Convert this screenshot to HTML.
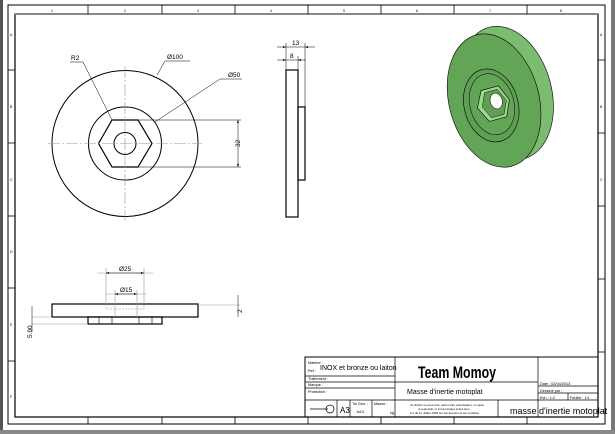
<!DOCTYPE html>
<html><head><meta charset="utf-8"><style>
html,body{margin:0;padding:0;background:#fff;width:615px;height:434px;overflow:hidden}
svg{display:block}
text{font-family:"Liberation Sans",sans-serif;fill:#000}
</style></head><body>
<svg width="615" height="434" viewBox="0 0 615 434" xmlns="http://www.w3.org/2000/svg">
<defs>
<marker id="a" viewBox="0 0 6 4" refX="6" refY="2" markerWidth="6" markerHeight="4" orient="auto-start-reverse"><path d="M0,0 L6,2 L0,4z" fill="#000"/></marker>
</defs>
<rect x="0" y="0" width="615" height="434" fill="#fff"/>
<rect x="0" y="0" width="3" height="434" fill="#555"/>
<rect x="611" y="0" width="4" height="434" fill="#777"/>
<rect x="0" y="430" width="615" height="4" fill="#888"/>
<rect x="8" y="5" width="597" height="419" fill="none" stroke="#000" stroke-width="1"/>
<rect x="15" y="14" width="583" height="403" fill="none" stroke="#000" stroke-width="1.2"/>
<line x1="15" y1="14" x2="598" y2="14" stroke="#888" stroke-width="2"/>
<g stroke="#000" stroke-width="0.8">
<line x1="88" y1="5" x2="88" y2="14"/><line x1="162" y1="5" x2="162" y2="14"/><line x1="235" y1="5" x2="235" y2="14"/><line x1="308" y1="5" x2="308" y2="14"/><line x1="381" y1="5" x2="381" y2="14"/><line x1="454" y1="5" x2="454" y2="14"/><line x1="527" y1="5" x2="527" y2="14"/>
<line x1="88" y1="417" x2="88" y2="424"/><line x1="162" y1="417" x2="162" y2="424"/><line x1="235" y1="417" x2="235" y2="424"/><line x1="308" y1="417" x2="308" y2="424"/><line x1="381" y1="417" x2="381" y2="424"/><line x1="454" y1="417" x2="454" y2="424"/><line x1="527" y1="417" x2="527" y2="424"/>
<line x1="8" y1="70" x2="15" y2="70"/><line x1="8" y1="143" x2="15" y2="143"/><line x1="8" y1="216" x2="15" y2="216"/><line x1="8" y1="288" x2="15" y2="288"/><line x1="8" y1="361" x2="15" y2="361"/>
<line x1="598" y1="60" x2="605" y2="60"/><line x1="598" y1="133" x2="605" y2="133"/><line x1="598" y1="206" x2="605" y2="206"/><line x1="598" y1="279" x2="605" y2="279"/><line x1="598" y1="352" x2="605" y2="352"/>
</g>
<g font-size="3.5" fill="#333">
<text x="51" y="12">1</text><text x="124" y="12">2</text><text x="197" y="12">3</text><text x="270" y="12">4</text><text x="343" y="12">5</text><text x="416" y="12">6</text><text x="489" y="12">7</text><text x="560" y="12">8</text>
<text x="10" y="36">A</text><text x="10" y="108">B</text><text x="10" y="181">C</text><text x="10" y="253">D</text><text x="10" y="326">E</text><text x="10" y="398">F</text>
<text x="600" y="36">A</text><text x="600" y="108">B</text><text x="600" y="181">C</text>
</g>
<g fill="none" stroke="#000" stroke-width="1">
<circle cx="125" cy="143.5" r="73"/>
<circle cx="125" cy="143.5" r="36.5"/>
<circle cx="125" cy="143.5" r="11"/>
<polygon points="98.5,143.5 112,120 138,120 152,143.5 138,167 112,167" stroke-width="1.2"/>
</g>
<g stroke="#999" stroke-width="0.6" stroke-dasharray="12,2,2,2">
<line x1="48" y1="143.5" x2="202" y2="143.5"/><line x1="125" y1="66" x2="125" y2="221"/>
</g>
<g stroke="#000" stroke-width="0.5" fill="none">
<line x1="138" y1="120" x2="241" y2="120"/><line x1="138" y1="167" x2="241" y2="167"/>
<line x1="238" y1="120" x2="238" y2="167" marker-start="url(#a)" marker-end="url(#a)"/>
<polyline points="70,62 83,62 112,120"/>
<polyline points="190,61 165,61 157,75"/>
<polyline points="242,79 220,79 155,122"/>
<line x1="277" y1="47" x2="286" y2="47" marker-end="url(#a)"/><line x1="305" y1="47" x2="315" y2="47" marker-start="url(#a)"/><line x1="286" y1="47" x2="305" y2="47"/>
<line x1="277" y1="60" x2="286" y2="60" marker-end="url(#a)"/><line x1="298" y1="60" x2="306" y2="60" marker-start="url(#a)"/><line x1="286" y1="60" x2="298" y2="60"/>
<line x1="286" y1="43" x2="286" y2="70"/><line x1="298" y1="56" x2="298" y2="70"/><line x1="305" y1="43" x2="305" y2="107"/>
</g>
<g font-size="6.5"><text x="71" y="60">R2</text><text x="167" y="59">Ø100</text><text x="228" y="77">Ø50</text>
<text x="292" y="45">13</text><text x="290" y="58">8</text>
<text transform="translate(240,147) rotate(-90)">32</text></g>
<rect x="286" y="70" width="12" height="147" fill="none" stroke="#000" stroke-width="1.2"/>
<rect x="298" y="107" width="7" height="73" fill="none" stroke="#000" stroke-width="1.2"/>
<rect x="52" y="304" width="146" height="13" fill="none" stroke="#000" stroke-width="1.2"/>
<rect x="88" y="317" width="74" height="7" fill="none" stroke="#000" stroke-width="1.2"/>
<g stroke="#000" stroke-width="0.6"><line x1="99" y1="317" x2="99" y2="324"/><line x1="112" y1="317" x2="112" y2="324"/><line x1="139" y1="317" x2="139" y2="324"/><line x1="152" y1="317" x2="152" y2="324"/></g>
<g stroke="#999" stroke-width="0.6" fill="none">
<polyline points="106,304 106,309 144,309 144,304" stroke-dasharray="2,1"/>
<line x1="106" y1="268" x2="106" y2="304"/><line x1="144" y1="268" x2="144" y2="304"/>
<line x1="97" y1="273" x2="153" y2="273"/>
<line x1="115" y1="290" x2="115" y2="317"/><line x1="137" y1="290" x2="137" y2="317"/>
<line x1="105" y1="294" x2="146" y2="294"/>
<line x1="198" y1="305" x2="240" y2="305"/>
<line x1="32" y1="317" x2="52" y2="317"/><line x1="32" y1="324" x2="88" y2="324"/>
</g>
<g stroke="#000" stroke-width="0.5" fill="none">
<line x1="106" y1="273" x2="144" y2="273" marker-start="url(#a)" marker-end="url(#a)"/>
<line x1="115" y1="294" x2="137" y2="294" marker-start="url(#a)" marker-end="url(#a)"/>
<line x1="238" y1="295" x2="238" y2="317"/><line x1="32" y1="306" x2="32" y2="332"/></g>
<g font-size="6.5"><text x="119" y="271">Ø25</text><text x="120" y="292">Ø15</text>
<text transform="translate(242,313) rotate(-90)">2</text><text transform="translate(32,338) rotate(-90)">5.90</text></g>
<g transform="rotate(-15 496 100)">
<ellipse cx="508" cy="96" rx="45" ry="68" fill="#7cbc70" stroke="#000" stroke-width="0.6"/>
<path d="M494,32 L508,28 L508,164 L494,168 Z" fill="#7cbc70"/>
<ellipse cx="494" cy="100" rx="45" ry="68" fill="#63a557" stroke="#000" stroke-width="0.6"/>
<ellipse cx="490" cy="104" rx="27" ry="37" fill="#5f9f54" stroke="#000" stroke-width="0.6"/>
<ellipse cx="491" cy="103" rx="22" ry="31" fill="#63a557" stroke="#000" stroke-width="0.5"/>
<polygon points="476,103 484,87 502,87 509,103 502,119 484,119" fill="#9ad88f" stroke="#000" stroke-width="0.6"/>
<polygon points="481,103 487,90 500,90 506,103 500,116 487,116" fill="#5f9f54" stroke="#000" stroke-width="0.4"/>
<ellipse cx="496" cy="101" rx="6" ry="8" fill="#fff" stroke="#000" stroke-width="0.5"/>
</g>
<g stroke="#000" stroke-width="0.7" fill="none">
<rect x="305" y="357" width="293" height="60" stroke-width="1"/>
<line x1="395" y1="357" x2="395" y2="400"/>
<line x1="538" y1="357" x2="538" y2="417"/>
<line x1="305" y1="376" x2="395" y2="376"/>
<line x1="305" y1="382" x2="395" y2="382"/>
<line x1="305" y1="388" x2="395" y2="388"/>
<line x1="395" y1="382" x2="538" y2="382"/>
<line x1="305" y1="400" x2="598" y2="400"/>
<line x1="337" y1="400" x2="337" y2="417"/><line x1="350" y1="400" x2="350" y2="417"/><line x1="372" y1="400" x2="372" y2="417"/><line x1="395" y1="400" x2="395" y2="417"/><line x1="498" y1="400" x2="498" y2="417"/>
<line x1="538" y1="386" x2="598" y2="386"/><line x1="538" y1="393" x2="598" y2="393"/><line x1="568" y1="393" x2="568" y2="400"/>
<line x1="310" y1="409" x2="328" y2="409"/><circle cx="330" cy="409" r="4"/>
</g>
<g font-size="3.8">
<text x="308" y="364">Matière :</text><text x="308" y="372">Ref :</text>
<text x="308" y="380">Traitement :</text><text x="308" y="386">Marque :</text><text x="308" y="393">Protection :</text>
<text x="352" y="405">Tol Gen. :</text><text x="356" y="413">Js13</text><text x="374" y="405">Masse :</text><text x="390" y="414">kg</text>
<text x="540" y="385">Date :  02/04/2013</text><text x="540" y="392">Dessiné par :</text><text x="540" y="399">Ech : 1:2</text><text x="570" y="399">Feuille : 1/1</text>
<text x="410" y="406" fill="#888" font-size="3">Ce fichier ne peut être, sans notre autorisation, ni copié,</text>
<text x="418" y="410" fill="#888" font-size="3">ni reproduit, ni communiqué à des tiers</text>
<text x="410" y="414" fill="#888" font-size="3">Loi du 11 Juillet 1909 sur les dessins et les modèles</text>
</g>
<text x="320" y="370" font-size="7">INOX et bronze ou laiton</text>
<text x="418" y="378" font-size="17" font-weight="bold" textLength="78" lengthAdjust="spacingAndGlyphs">Team Momoy</text>
<text x="407" y="394" font-size="7">Masse d'inertie motoplat</text>
<text x="340" y="413" font-size="8">A3</text>
<text x="510" y="414" font-size="9">masse d'inertie motoplat</text>
</svg>
</body></html>
